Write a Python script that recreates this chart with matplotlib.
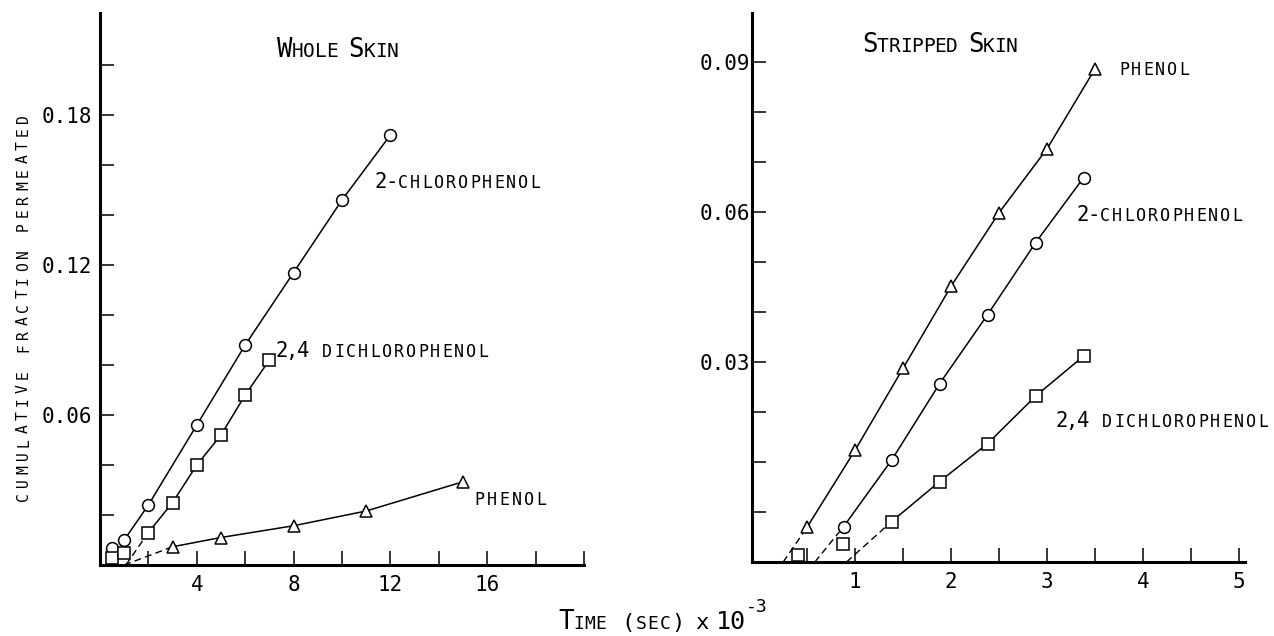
import matplotlib
matplotlib.use('Agg')
import matplotlib.pyplot as plt

W, H = 1274, 636
FONT = 'DejaVu Sans Mono'
plt.rcParams['font.family'] = FONT

# ─── Whole skin (time in sec x 1e-3, cumulative fraction) ───
whole_chloro_t = [0.5, 1, 2, 4, 6, 8, 10, 12]
whole_chloro_f = [0.007, 0.010, 0.024, 0.056, 0.088, 0.117, 0.146, 0.172]
whole_dichloro_t = [0.5, 1, 2, 3, 4, 5, 6, 7]
whole_dichloro_f = [0.003, 0.005, 0.013, 0.025, 0.040, 0.052, 0.068, 0.082]
whole_phenol_t = [3, 5, 8, 11, 15]
whole_phenol_f = [0.0073, 0.011, 0.0157, 0.0216, 0.0333]
whole_dichloro_lag = 1.07   # dashed extrapolation meets the time axis here
whole_phenol_lag = 1.0

# ─── Stripped skin ───
strip_phenol_t = [0.5, 1.0, 1.5, 2.0, 2.5, 3.0, 3.5]
strip_phenol_f = [-0.003, 0.0124, 0.0288, 0.0452, 0.0599, 0.0727, 0.0887]
strip_chloro_t = [0.88, 1.38, 1.88, 2.38, 2.88, 3.38]
strip_chloro_f = [-0.0029, 0.0104, 0.0257, 0.0395, 0.0539, 0.0669]
strip_dichloro_t = [0.4, 0.87, 1.38, 1.88, 2.38, 2.88, 3.38]
strip_dichloro_f = [-0.0086, -0.0064, -0.0019, 0.0061, 0.0137, 0.0232, 0.0312]
strip_phenol_lag = 0.25
strip_chloro_lag = 0.58
strip_dichloro_lag = 0.91

# ─── Ticks ───
whole_xticks = [2, 4, 6, 8, 10, 12, 14, 16, 18, 20]
whole_xlabels = ['', '4', '', '8', '', '12', '', '16', '', '']
whole_yticks = [0.02, 0.04, 0.06, 0.08, 0.10, 0.12, 0.14, 0.16, 0.18, 0.20]
whole_ylabels = ['', '', '0.06', '', '', '0.12', '', '', '0.18', '']
strip_xticks = [0.5, 1, 1.5, 2, 2.5, 3, 3.5, 4, 4.5, 5]
strip_xlabels = ['', '1', '', '2', '', '3', '', '4', '', '5']
strip_yticks = [0.00, 0.01, 0.02, 0.03, 0.04, 0.05, 0.06, 0.07, 0.08, 0.09]
strip_ylabels = ['', '', '', '0.03', '', '', '0.06', '', '', '0.09']

fig = plt.figure(figsize=(W / 100, H / 100), dpi=100)
ax1 = fig.add_axes([100 / W, 1 - 565 / H, 484 / W, 552 / H])
ax2 = fig.add_axes([752 / W, 1 - 562 / H, 493 / W, 549 / H])


def series(ax, t, f, marker, ms, start, lag=None, base=0.0):
    ax.plot(t[start:], f[start:], '-', color='black', lw=1.1, zorder=2)
    if lag is not None:
        ax.plot([lag, t[start]], [base, f[start]], color='black', lw=1.0,
                dashes=(5, 3), zorder=2)
    ax.plot(t, f, ls='none', marker=marker, ms=ms, mfc='white', mec='black',
            mew=1.1, zorder=3, clip_on=False)


series(ax1, whole_chloro_t, whole_chloro_f, 'o', 8.5, 1)
series(ax1, whole_dichloro_t, whole_dichloro_f, 's', 8.5, 2, whole_dichloro_lag)
series(ax1, whole_phenol_t, whole_phenol_f, '^', 9, 0, whole_phenol_lag)

series(ax2, strip_phenol_t, strip_phenol_f, '^', 9, 0, strip_phenol_lag, -0.01)
series(ax2, strip_chloro_t, strip_chloro_f, 'o', 8.5, 0, strip_chloro_lag, -0.01)
series(ax2, strip_dichloro_t, strip_dichloro_f, 's', 8.5, 2, strip_dichloro_lag, -0.01)

ax1.set_xlim(0, 20)
ax1.set_ylim(0, 0.2208)
ax2.set_xlim(-0.075, 5.06)
ax2.set_ylim(-0.01, 0.0998)

for ax, xt, xl, yt, yl, ypad in [(ax1, whole_xticks, whole_xlabels, whole_yticks, whole_ylabels, 6),
                                 (ax2, strip_xticks, strip_xlabels, strip_yticks, strip_ylabels, 1)]:
    ax.set_xticks(xt)
    ax.set_xticklabels(xl)
    ax.set_yticks(yt)
    ax.set_yticklabels(yl)
    for s in ['top', 'right']:
        ax.spines[s].set_visible(False)
    for s in ['left', 'bottom']:
        ax.spines[s].set_linewidth(2.2)
    ax.tick_params(direction='in', length=10, width=1.1, labelsize=15)
    ax.tick_params(axis='x', pad=7)
    ax.tick_params(axis='y', pad=ypad)
    ax.patch.set_alpha(0)


def caps(text, big, small, bstep, sstep, space):
    # typewriter small caps: upper case / digits large, lower case as small capitals
    segs = []
    for ch in text:
        if ch == ' ':
            segs.append((' ', small, space))
        elif ch.islower():
            segs.append((ch.upper(), small, sstep))
        else:
            segs.append((ch, big, bstep))
    return segs


def typeset(x, y, segs, vertical=False):
    # x, y in reference pixels (origin top-left), y is the baseline
    for ch, size, step in segs:
        if ch != ' ':
            if vertical:
                fig.text(x / W, 1 - (y - step / 2) / H, ch, fontsize=size,
                         rotation=90, rotation_mode='anchor', ha='center', va='baseline')
            else:
                fig.text((x + step / 2) / W, 1 - y / H, ch, fontsize=size,
                         ha='center', va='baseline')
        if vertical:
            y -= step
        else:
            x += step


typeset(278, 57, caps('Whole Skin', 18.5, 14, 14, 11.5, 11.5))
typeset(863, 52, caps('Stripped Skin', 18.5, 14, 14, 11.5, 11.5))

typeset(375, 188, caps('2-chlorophenol', 14.8, 12, 11, 12, 12))
typeset(276, 357, caps('2,4 dichlorophenol', 14.8, 12, 11, 12, 12))
typeset(473, 505, caps('phenol', 14.8, 12, 12.5, 12.5, 12))

typeset(1118, 75, caps('phenol', 14.8, 12, 12, 12, 12))
typeset(1077, 221, caps('2-chlorophenol', 14.8, 12, 11, 12, 12))
typeset(1056, 427, caps('2,4 dichlorophenol', 14.8, 12, 11, 12, 12))

typeset(28, 503, caps('cumulative fraction permeated', 10.5, 10.5, 13.5, 13.5, 13.5),
        vertical=True)

# axis title "Time (sec) x 10^-3"
typeset(560, 629, caps('Time', 18.5, 13, 13, 11, 14))
typeset(622, 629, caps('(sec)', 16, 13, 13, 12, 12))
fig.text(702 / W, 1 - 629 / H, 'x', fontsize=16, ha='center', va='baseline')
fig.text(716 / W, 1 - 629 / H, '10', fontsize=18, ha='left', va='baseline')
fig.text(746 / W, 1 - 612 / H, '-3', fontsize=13, ha='left', va='baseline')

fig.savefig('out.png', dpi=100)
